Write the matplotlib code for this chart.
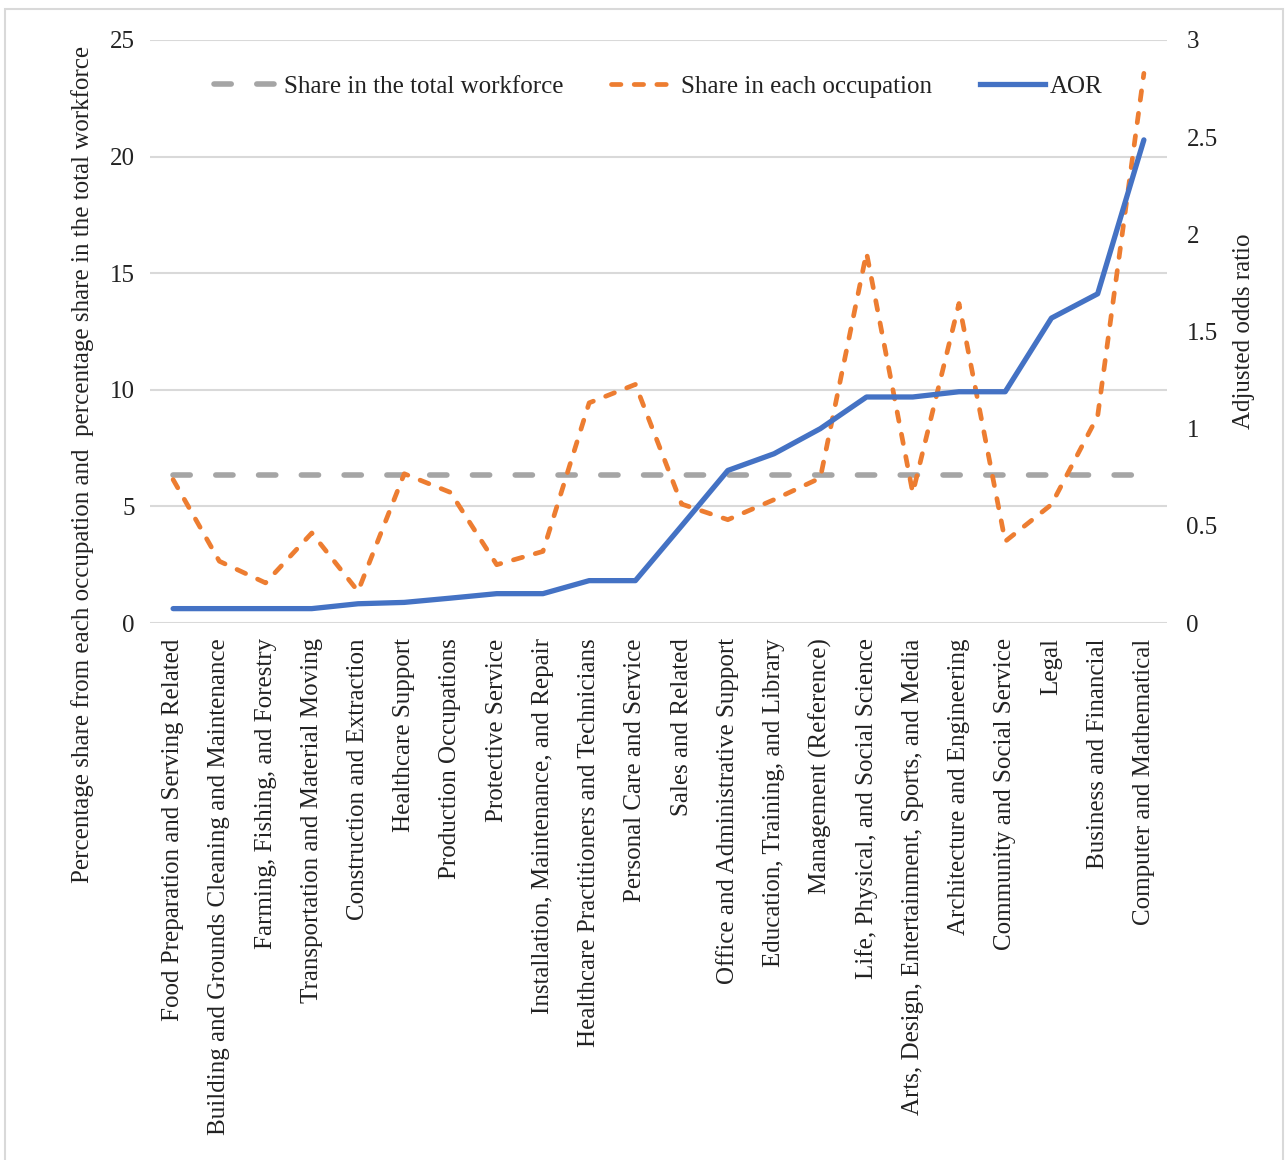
import matplotlib.pyplot as plt
import numpy as np
from matplotlib.lines import Line2D

plt.rcParams['font.family'] = ['Liberation Serif', 'DejaVu Serif']

# occupations, ordered by adjusted odds ratio
occupations = [
    "Food Preparation and Serving Related",
    "Building and Grounds Cleaning and Maintenance",
    "Farming, Fishing, and Forestry",
    "Transportation and Material Moving",
    "Construction and Extraction",
    "Healthcare Support",
    "Production Occupations",
    "Protective Service",
    "Installation, Maintenance, and Repair",
    "Healthcare Practitioners and Technicians",
    "Personal Care and Service",
    "Sales and Related",
    "Office and Administrative Support",
    "Education, Training, and Library",
    "Management (Reference)",
    "Life, Physical, and Social Science",
    "Arts, Design, Entertainment, Sports, and Media",
    "Architecture and Engineering",
    "Community and Social Service",
    "Legal",
    "Business and Financial",
    "Computer and Mathematical",
]

# percentage share in each occupation
share_occupation = [6.15, 2.65, 1.72, 3.86, 1.36, 6.4, 5.6, 2.5, 3.07, 9.44, 10.23,
                    5.1, 4.43, 5.29, 6.22, 15.88, 5.58, 13.7, 3.5, 5.08, 8.87, 23.57]
# share in the total workforce (flat reference)
share_total = [6.36] * len(occupations)
# adjusted odds ratios
aor = [0.074, 0.074, 0.074, 0.074, 0.099, 0.106, 0.128, 0.151, 0.151, 0.218, 0.218,
       0.50, 0.785, 0.871, 1.0, 1.163, 1.163, 1.19, 1.19, 1.569, 1.694, 2.486]

W, H = 1285, 1160
fs = 18
txt = '#222222'
fig = plt.figure(figsize=(W / 100, H / 100), dpi=100)
ax = fig.add_axes([150 / W, 1 - 623 / H, (1167 - 150) / W, (623 - 40) / H])
ax2 = ax.twinx()

x = np.arange(len(occupations))
gray = '#A5A5A5'
orange = '#ED7D31'
blue = '#4472C4'

gray_style = dict(color=gray, lw=4.0, dashes=(3.1, 4.6), dash_capstyle='round')
orange_style = dict(color=orange, lw=3.4, dashes=(2.0, 2.8), dash_capstyle='round')
blue_style = dict(color=blue, lw=3.8)

ax.plot(x, share_total, zorder=3, **gray_style)
ax.plot(x, share_occupation, zorder=4, **orange_style)
ax2.plot(x, aor, solid_capstyle='round', zorder=5, **blue_style)

ax.set_xlim(-0.5, len(occupations) - 0.5)
ax.set_ylim(0, 25)
ax.set_yticks(np.arange(0, 26, 5))
ax2.set_ylim(0, 3)
ax2.set_yticks([0, 0.5, 1, 1.5, 2, 2.5, 3])
ax2.set_yticklabels(["0", "0.5", "1", "1.5", "2", "2.5", "3"])

ax.grid(axis='y', color='#D9D9D9', lw=1.5)
ax.set_axisbelow(True)
for a in (ax, ax2):
    for s in a.spines.values():
        s.set_visible(False)

ax.set_xticks(x)
ax.set_xticklabels(occupations, rotation=90, fontsize=fs, color=txt)
ax.tick_params(axis='x', length=0, pad=11)
ax.tick_params(axis='y', length=0, pad=11, labelsize=fs, labelcolor=txt)
ax2.tick_params(axis='y', length=0, pad=14, labelsize=fs, labelcolor=txt)

fig.text(83 / W, 1 - 464 / H,
         "Percentage share from each occupation and  percentage share in the total workforce",
         rotation=90, ha='center', va='center', fontsize=fs, color=txt)
ax2.set_ylabel("Adjusted odds ratio", fontsize=fs, color=txt, labelpad=11)

handles = [Line2D([], [], **gray_style), Line2D([], [], **orange_style),
           Line2D([], [], **blue_style)]
ax.legend(handles, ["Share in the total workforce", "Share in each occupation", "AOR"],
          loc='center', bbox_to_anchor=(0.5, 0.92), ncol=3, frameon=False,
          fontsize=fs, handlelength=2.6, handletextpad=0.2, columnspacing=1.9,
          labelcolor=txt)

# thin frame round the figure
border = plt.Rectangle((5 / W, -0.01), (1283 - 5) / W, 1 - 9 / H + 0.01,
                       transform=fig.transFigure, fill=False,
                       edgecolor='#D9D9D9', lw=1.5)
fig.patches.append(border)

fig.savefig('out.png', dpi=100)
